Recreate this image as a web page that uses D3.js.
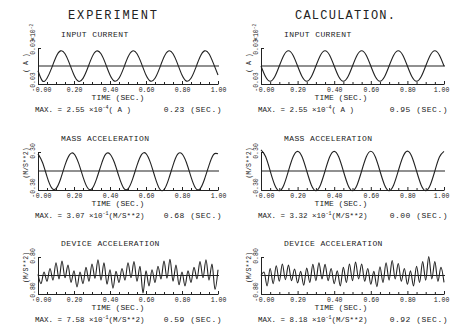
<!DOCTYPE html>
<html>
<head>
<meta charset="utf-8">
<script src="https://cdn.jsdelivr.net/npm/d3@7"></script>
<style>
  body { margin: 0; background: #fff; }
  text { font-family: "Liberation Mono", "DejaVu Sans Mono", monospace; fill: #222; }
</style>
</head>
<body>
<svg id="chart" width="450" height="332"></svg>
<script>
// tick labels and texts
const timeTicks = [0, 0.2, 0.4, 0.6, 0.8, 1.0];
const minorTicks = [0.05, 0.1, 0.15, 0.25, 0.3, 0.35, 0.45, 0.5, 0.55, 0.65, 0.7, 0.75, 0.85, 0.9, 0.95];
const columnTitles = ["EXPERIMENT", "CALCULATION."];
const panelTitles = ["INPUT CURRENT", "MASS ACCELERATION", "DEVICE ACCELERATION"];
const yLimits = [0.03, 0.30, 0.80];
const yTopLabels = ["0.03", "0.30", "0.80"];
const yBottomLabels = ["-0.03", "-0.30", "-0.80"];
const unitLabels = ["( A )", "(M/S**2)", "(M/S**2)"];
const maxMantissaExp = ["2.55", "3.07", "7.58"];
const maxMantissaCalc = ["2.55", "3.32", "8.18"];
const maxExponents = ["-4", "-1", "-1"];
const maxTimesExp = ["0.23", "0.68", "0.59"];
const maxTimesCalc = ["0.95", "0.00", "0.92"];

// input current (x10^-2 A), read every 0.025 s
const currentExp = [-0.008, -0.0250, -0.0205, -0.0040, 0.0150, 0.0252, 0.0205, 0.0040,
  -0.0150, -0.0255, -0.0206, -0.0042, 0.0148, 0.0250, 0.0204, 0.0040,
  -0.0150, -0.0252, -0.0205, -0.0040, 0.0150, 0.0251, 0.0205, 0.0040,
  -0.0150, -0.0252, -0.0205, -0.0040, 0.0150, 0.0251, 0.0205, 0.0040,
  -0.0150, -0.0252, -0.0205, -0.0040, 0.0150, 0.0252, 0.0205, 0.0040, -0.0150];
const currentCalc = [0, -0.0180, -0.0255, -0.0180, 0, 0.0180, 0.0255, 0.0180,
  0, -0.0180, -0.0255, -0.0180, 0, 0.0180, 0.0255, 0.0180,
  0, -0.0180, -0.0255, -0.0180, 0, 0.0180, 0.0255, 0.0180,
  0, -0.0180, -0.0255, -0.0180, 0, 0.0180, 0.0255, 0.0180,
  0, -0.0180, -0.0255, -0.0180, 0, 0.0180, 0.0255, 0.0180, 0];

// mass acceleration (m/s^2), read every 0.025 s
const massExp = [0.270, 0.135, -0.088, -0.262, -0.278, -0.130, 0.092, 0.255,
  0.272, 0.128, -0.092, -0.265, -0.280, -0.128, 0.090, 0.262,
  0.268, 0.130, -0.090, -0.266, -0.282, -0.132, 0.088, 0.258,
  0.275, 0.128, -0.096, -0.280, -0.295, -0.135, 0.090, 0.262,
  0.270, 0.130, -0.092, -0.268, -0.282, -0.130, 0.090, 0.260, 0.272];
const massCalc = [0.332, 0.228, 0.002, -0.220, -0.312, -0.220, 0.002, 0.220,
  0.310, 0.220, 0, -0.220, -0.312, -0.220, 0, 0.220,
  0.310, 0.220, 0, -0.220, -0.312, -0.220, 0, 0.220,
  0.312, 0.220, 0, -0.220, -0.312, -0.220, 0, 0.220,
  0.314, 0.222, 0, -0.220, -0.312, -0.220, 0, 0.220, 0.310];

// device acceleration (m/s^2), peaks and troughs every 1/60 s
const deviceExp = [0.05, -0.35, 0.15, -0.25, 0.30, -0.20, 0.55, -0.15, 0.62, -0.10, 0.45, -0.30,
  0.20, -0.50, 0.15, -0.35, 0.35, -0.25, 0.50, -0.12, 0.68, -0.20, 0.55, -0.38,
  0.25, -0.55, 0.18, -0.30, 0.30, -0.20, 0.55, -0.10, 0.60, -0.25, 0.40, -0.758,
  0.20, -0.45, 0.25, -0.30, 0.40, -0.15, 0.62, -0.12, 0.70, -0.25, 0.45, -0.40,
  0.15, -0.45, 0.20, -0.30, 0.35, -0.15, 0.60, -0.10, 0.68, -0.20, 0.50, -0.60, 0.25];
const deviceCalc = [0.00, 0.15, -0.45, 0.30, -0.35, 0.42, -0.25, 0.50, -0.18, 0.45, -0.22, 0.28,
  -0.32, 0.18, -0.42, 0.32, -0.30, 0.48, -0.22, 0.55, -0.15, 0.48, -0.22, 0.30,
  -0.35, 0.20, -0.45, 0.35, -0.30, 0.50, -0.22, 0.58, -0.15, 0.50, -0.25, 0.30,
  -0.38, 0.18, -0.48, 0.38, -0.30, 0.55, -0.20, 0.65, -0.15, 0.52, -0.25, 0.30,
  -0.38, 0.20, -0.45, 0.40, -0.30, 0.60, -0.20, 0.818, -0.15, 0.60, -0.25, 0.35, -0.30];

const seriesByColumn = [[currentExp, massExp, deviceExp], [currentCalc, massCalc, deviceCalc]];
const mantissas = [maxMantissaExp, maxMantissaCalc];
const maxTimes = [maxTimesExp, maxTimesCalc];

const ink = "#222";
const cols = [{ x0: 38, x1: 218 }, { x0: 261, x1: 444 }];
const rows = [{ top: 48, bottom: 84 }, { top: 152, bottom: 190 }, { top: 257, bottom: 294 }];

const svg = d3.select("#chart");

columnTitles.forEach((t, c) => {
  svg.append("text")
    .attr("x", c === 0 ? 68 : 295)
    .attr("y", 19)
    .attr("font-family", "Lato, 'Open Sans', sans-serif")
    .attr("font-weight", 300)
    .attr("font-size", 12)
    .attr("textLength", c === 0 ? 89 : 100)
    .attr("lengthAdjust", "spacing")
    .text(t);
});

cols.forEach((col, c) => {
  rows.forEach((row, r) => {
    const lim = yLimits[r];
    const values = seriesByColumn[c][r];
    const x = d3.scaleLinear().domain([0, 1]).range([col.x0, col.x1]);
    const y = d3.scaleLinear().domain([-lim, lim]).range([row.bottom, row.top]);
    const t = d3.scaleLinear().domain([0, values.length - 1]).range([0, 1]);
    const g = svg.append("g");

    // panel title
    g.append("text")
      .attr("x", col.x0 + 23)
      .attr("y", row.top - 11)
      .attr("font-size", 8)
      .attr("letter-spacing", 0.4)
      .text(panelTitles[r]);

    // bottom axis
    const xAxis = g.append("g")
      .attr("transform", `translate(0,${row.bottom})`)
      .call(d3.axisBottom(x).tickValues(timeTicks).tickSize(-3).tickSizeOuter(0)
        .tickPadding(3.4).tickFormat(d3.format(".2f")));
    xAxis.selectAll("text").attr("font-size", 6.5).attr("fill", ink)
      .attr("font-family", "Liberation Mono, monospace");
    xAxis.selectAll("text").filter(d => d === 0).attr("dx", 5);
    if (c === 1) xAxis.selectAll("text").filter(d => d === 1).attr("dx", -3);
    xAxis.selectAll("line, path").attr("stroke", ink);
    g.append("g")
      .attr("transform", `translate(0,${row.bottom})`)
      .call(d3.axisBottom(x).tickValues(minorTicks).tickSize(-2).tickFormat(""))
      .call(a => a.select(".domain").remove())
      .selectAll("line").attr("stroke", ink);

    // left axis
    g.append("g")
      .attr("transform", `translate(${col.x0},0)`)
      .call(d3.axisLeft(y).tickValues([-lim, lim]).tickSize(-3).tickSizeOuter(0).tickFormat(""))
      .selectAll("line, path").attr("stroke", ink);

    // zero line
    g.append("line")
      .attr("x1", col.x0).attr("x2", col.x1 + 1)
      .attr("y1", y(0)).attr("y2", y(0))
      .attr("stroke", ink).attr("stroke-width", 1.2);

    // rotated y labels
    const vlab = (txt, yy, xx, anchor) => g.append("text")
      .attr("transform", `translate(${xx},${yy}) rotate(-90)`)
      .attr("text-anchor", anchor)
      .attr("font-size", 6.5)
      .text(txt);
    vlab(yTopLabels[r], y(lim) - 1, col.x0 - 3, "middle");
    vlab(yBottomLabels[r], y(-lim) - 2, col.x0 - 3, "middle");
    if (r === 0) {
      vlab(unitLabels[r], y(0) - 3, col.x0 - 10, "middle");
      const ex = g.append("text")
        .attr("transform", `translate(${col.x0 - 3},${y(lim) - 7}) rotate(-90)`)
        .attr("font-size", 6.5);
      ex.append("tspan").text("×10");
      ex.append("tspan").attr("dy", -2.5).attr("font-size", 4.5).text("-2");
    } else {
      vlab(unitLabels[r], y(0) - 8, col.x0 - 10, "middle");
    }

    // signal
    const line = d3.line()
      .x((d, i) => x(t(i)))
      .y(d => y(d))
      .curve(r === 2 ? d3.curveMonotoneX : d3.curveNatural);
    g.append("path")
      .datum(values)
      .attr("fill", "none")
      .attr("stroke", ink)
      .attr("stroke-width", 1.1)
      .attr("d", line);

    // time label
    g.append("text")
      .attr("x", col.x0 + 80)
      .attr("y", row.bottom + 16)
      .attr("text-anchor", "middle")
      .attr("font-size", 8)
      .text("TIME (SEC.)");

    // max line
    const mx = g.append("text")
      .attr("x", col.x0 - 3)
      .attr("y", row.bottom + 28)
      .attr("font-size", 7.5);
    mx.append("tspan").text(`MAX. = ${mantissas[c][r]} ×10`);
    mx.append("tspan").attr("dy", -3).attr("font-size", 5).text(maxExponents[r]);
    mx.append("tspan").attr("dy", 3).text(unitLabels[r]);
    g.append("text")
      .attr("x", col.x1 + 4)
      .attr("y", row.bottom + 28)
      .attr("text-anchor", "end")
      .attr("font-size", 8)
      .attr("letter-spacing", 0.5)
      .text(`${maxTimes[c][r]}  (SEC.)`);
  });
});
</script>
</body>
</html>
